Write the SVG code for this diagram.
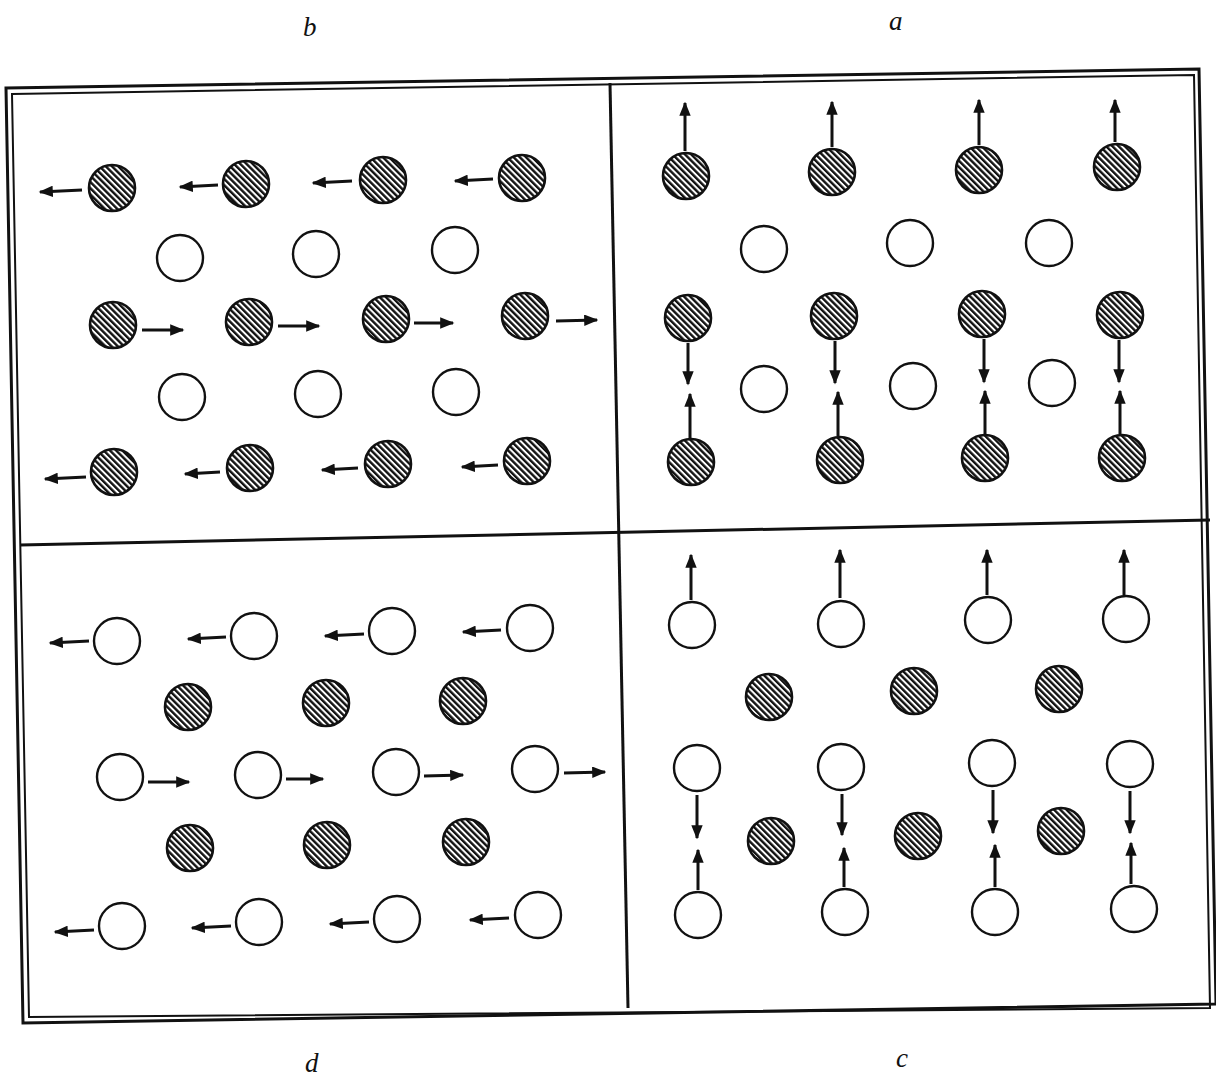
<svg xmlns="http://www.w3.org/2000/svg" width="1216" height="1077" viewBox="0 0 1216 1077">
<style>
.lbl{font-family:"Liberation Serif",serif;font-style:italic;font-size:27px;fill:#111}
.frame{fill:none;stroke:#111;stroke-width:3}
.frame2{fill:none;stroke:#111;stroke-width:2}
.div{stroke:#111;stroke-width:3;fill:none}
.h{fill:url(#hatch);stroke:#111;stroke-width:2.6}
.o{fill:#fff;stroke:#111;stroke-width:2.4}
.ar{stroke:#111;stroke-width:3;fill:none;marker-end:url(#ah)}
</style>
<defs>
<pattern id="hatch" patternUnits="userSpaceOnUse" width="4.4" height="4.4" patternTransform="rotate(-45)">
<rect width="4.4" height="4.4" fill="#fff"/>
<line x1="1.2" y1="0" x2="1.2" y2="4.4" stroke="#111" stroke-width="2.4"/>
</pattern>
<marker id="ah" viewBox="0 0 10 8" refX="9" refY="4" markerWidth="4.8" markerHeight="3.8" orient="auto" markerUnits="strokeWidth">
<path d="M0,0 L10,4 L0,8 Z" fill="#111"/>
</marker>
</defs>
<rect width="1216" height="1077" fill="#fff"/>
<g id="labels">
<text class="lbl" x="303" y="36">b</text>
<text class="lbl" x="889" y="30">a</text>
<text class="lbl" x="305" y="1072">d</text>
<text class="lbl" x="896" y="1067">c</text>
</g>
<g id="frame">
<polygon class="frame" points="6,88 1199,69 1216,1004 23,1023"/>
<polygon class="frame2" points="12,94 1194,75 1210,1008 29,1017"/>
<line class="div" x1="610" y1="83" x2="628" y2="1008"/>
<line class="div" x1="20" y1="545" x2="1210" y2="520"/>
</g>
<g id="connectors">
<line class="ar" x1="82" y1="190" x2="40" y2="192"/>
<line class="ar" x1="218" y1="185" x2="180" y2="187"/>
<line class="ar" x1="352" y1="181" x2="313" y2="183"/>
<line class="ar" x1="493" y1="179" x2="455" y2="181"/>
<line class="ar" x1="142" y1="330" x2="183" y2="330"/>
<line class="ar" x1="278" y1="326" x2="319" y2="326"/>
<line class="ar" x1="414" y1="323" x2="453" y2="323"/>
<line class="ar" x1="556" y1="321" x2="597" y2="320"/>
<line class="ar" x1="86" y1="477" x2="45" y2="479"/>
<line class="ar" x1="220" y1="472" x2="185" y2="474"/>
<line class="ar" x1="358" y1="468" x2="322" y2="470"/>
<line class="ar" x1="498" y1="465" x2="462" y2="467"/>
<line class="ar" x1="685" y1="151" x2="685" y2="103"/>
<line class="ar" x1="832" y1="147" x2="832" y2="102"/>
<line class="ar" x1="979" y1="145" x2="979" y2="100"/>
<line class="ar" x1="1115" y1="142" x2="1115" y2="100"/>
<line class="ar" x1="688" y1="343" x2="688" y2="384"/>
<line class="ar" x1="835" y1="341" x2="835" y2="383"/>
<line class="ar" x1="984" y1="339" x2="984" y2="382"/>
<line class="ar" x1="1119" y1="340" x2="1119" y2="382"/>
<line class="ar" x1="690" y1="438" x2="690" y2="394"/>
<line class="ar" x1="838" y1="436" x2="838" y2="392"/>
<line class="ar" x1="985" y1="434" x2="985" y2="391"/>
<line class="ar" x1="1120" y1="434" x2="1120" y2="391"/>
<line class="ar" x1="89" y1="641" x2="50" y2="643"/>
<line class="ar" x1="226" y1="637" x2="188" y2="639"/>
<line class="ar" x1="364" y1="634" x2="325" y2="636"/>
<line class="ar" x1="501" y1="630" x2="463" y2="632"/>
<line class="ar" x1="148" y1="782" x2="189" y2="782"/>
<line class="ar" x1="286" y1="779" x2="323" y2="779"/>
<line class="ar" x1="424" y1="776" x2="463" y2="775"/>
<line class="ar" x1="564" y1="773" x2="605" y2="772"/>
<line class="ar" x1="94" y1="930" x2="55" y2="932"/>
<line class="ar" x1="231" y1="926" x2="192" y2="928"/>
<line class="ar" x1="369" y1="922" x2="330" y2="924"/>
<line class="ar" x1="509" y1="918" x2="470" y2="920"/>
<line class="ar" x1="691" y1="600" x2="691" y2="555"/>
<line class="ar" x1="840" y1="598" x2="840" y2="550"/>
<line class="ar" x1="987" y1="595" x2="987" y2="550"/>
<line class="ar" x1="1124" y1="595" x2="1124" y2="550"/>
<line class="ar" x1="697" y1="795" x2="697" y2="838"/>
<line class="ar" x1="842" y1="794" x2="842" y2="835"/>
<line class="ar" x1="993" y1="790" x2="993" y2="833"/>
<line class="ar" x1="1130" y1="791" x2="1130" y2="833"/>
<line class="ar" x1="698" y1="890" x2="698" y2="850"/>
<line class="ar" x1="844" y1="887" x2="844" y2="848"/>
<line class="ar" x1="995" y1="887" x2="995" y2="845"/>
<line class="ar" x1="1131" y1="884" x2="1131" y2="843"/>
</g>
<g id="panel-b">
<circle id="b1" class="h" cx="112" cy="188" r="23"/>
<circle id="b2" class="h" cx="246" cy="184" r="23"/>
<circle id="b3" class="h" cx="383" cy="180" r="23"/>
<circle id="b4" class="h" cx="522" cy="178" r="23"/>
<circle id="b5" class="o" cx="180" cy="258" r="23"/>
<circle id="b6" class="o" cx="316" cy="254" r="23"/>
<circle id="b7" class="o" cx="455" cy="250" r="23"/>
<circle id="b8" class="h" cx="113" cy="325" r="23"/>
<circle id="b9" class="h" cx="249" cy="322" r="23"/>
<circle id="b10" class="h" cx="386" cy="319" r="23"/>
<circle id="b11" class="h" cx="525" cy="316" r="23"/>
<circle id="b12" class="o" cx="182" cy="397" r="23"/>
<circle id="b13" class="o" cx="318" cy="394" r="23"/>
<circle id="b14" class="o" cx="456" cy="392" r="23"/>
<circle id="b15" class="h" cx="114" cy="472" r="23"/>
<circle id="b16" class="h" cx="250" cy="468" r="23"/>
<circle id="b17" class="h" cx="388" cy="464" r="23"/>
<circle id="b18" class="h" cx="527" cy="461" r="23"/>
</g>
<g id="panel-a">
<circle id="a1" class="h" cx="686" cy="176" r="23"/>
<circle id="a2" class="h" cx="832" cy="172" r="23"/>
<circle id="a3" class="h" cx="979" cy="170" r="23"/>
<circle id="a4" class="h" cx="1117" cy="167" r="23"/>
<circle id="a5" class="o" cx="764" cy="249" r="23"/>
<circle id="a6" class="o" cx="910" cy="243" r="23"/>
<circle id="a7" class="o" cx="1049" cy="243" r="23"/>
<circle id="a8" class="h" cx="688" cy="318" r="23"/>
<circle id="a9" class="h" cx="834" cy="316" r="23"/>
<circle id="a10" class="h" cx="982" cy="314" r="23"/>
<circle id="a11" class="h" cx="1120" cy="315" r="23"/>
<circle id="a12" class="o" cx="764" cy="389" r="23"/>
<circle id="a13" class="o" cx="913" cy="386" r="23"/>
<circle id="a14" class="o" cx="1052" cy="383" r="23"/>
<circle id="a15" class="h" cx="691" cy="462" r="23"/>
<circle id="a16" class="h" cx="840" cy="460" r="23"/>
<circle id="a17" class="h" cx="985" cy="458" r="23"/>
<circle id="a18" class="h" cx="1122" cy="458" r="23"/>
</g>
<g id="panel-d">
<circle id="d1" class="o" cx="117" cy="641" r="23"/>
<circle id="d2" class="o" cx="254" cy="636" r="23"/>
<circle id="d3" class="o" cx="392" cy="631" r="23"/>
<circle id="d4" class="o" cx="530" cy="628" r="23"/>
<circle id="d5" class="h" cx="188" cy="707" r="23"/>
<circle id="d6" class="h" cx="326" cy="703" r="23"/>
<circle id="d7" class="h" cx="463" cy="701" r="23"/>
<circle id="d8" class="o" cx="120" cy="777" r="23"/>
<circle id="d9" class="o" cx="258" cy="775" r="23"/>
<circle id="d10" class="o" cx="396" cy="772" r="23"/>
<circle id="d11" class="o" cx="535" cy="769" r="23"/>
<circle id="d12" class="h" cx="190" cy="848" r="23"/>
<circle id="d13" class="h" cx="327" cy="845" r="23"/>
<circle id="d14" class="h" cx="466" cy="842" r="23"/>
<circle id="d15" class="o" cx="122" cy="926" r="23"/>
<circle id="d16" class="o" cx="259" cy="922" r="23"/>
<circle id="d17" class="o" cx="397" cy="919" r="23"/>
<circle id="d18" class="o" cx="538" cy="915" r="23"/>
</g>
<g id="panel-c">
<circle id="c1" class="o" cx="692" cy="625" r="23"/>
<circle id="c2" class="o" cx="841" cy="624" r="23"/>
<circle id="c3" class="o" cx="988" cy="620" r="23"/>
<circle id="c4" class="o" cx="1126" cy="619" r="23"/>
<circle id="c5" class="h" cx="769" cy="697" r="23"/>
<circle id="c6" class="h" cx="914" cy="691" r="23"/>
<circle id="c7" class="h" cx="1059" cy="689" r="23"/>
<circle id="c8" class="o" cx="697" cy="768" r="23"/>
<circle id="c9" class="o" cx="841" cy="767" r="23"/>
<circle id="c10" class="o" cx="992" cy="763" r="23"/>
<circle id="c11" class="o" cx="1130" cy="764" r="23"/>
<circle id="c12" class="h" cx="771" cy="841" r="23"/>
<circle id="c13" class="h" cx="918" cy="836" r="23"/>
<circle id="c14" class="h" cx="1061" cy="831" r="23"/>
<circle id="c15" class="o" cx="698" cy="915" r="23"/>
<circle id="c16" class="o" cx="845" cy="912" r="23"/>
<circle id="c17" class="o" cx="995" cy="912" r="23"/>
<circle id="c18" class="o" cx="1134" cy="909" r="23"/>
</g>
</svg>
